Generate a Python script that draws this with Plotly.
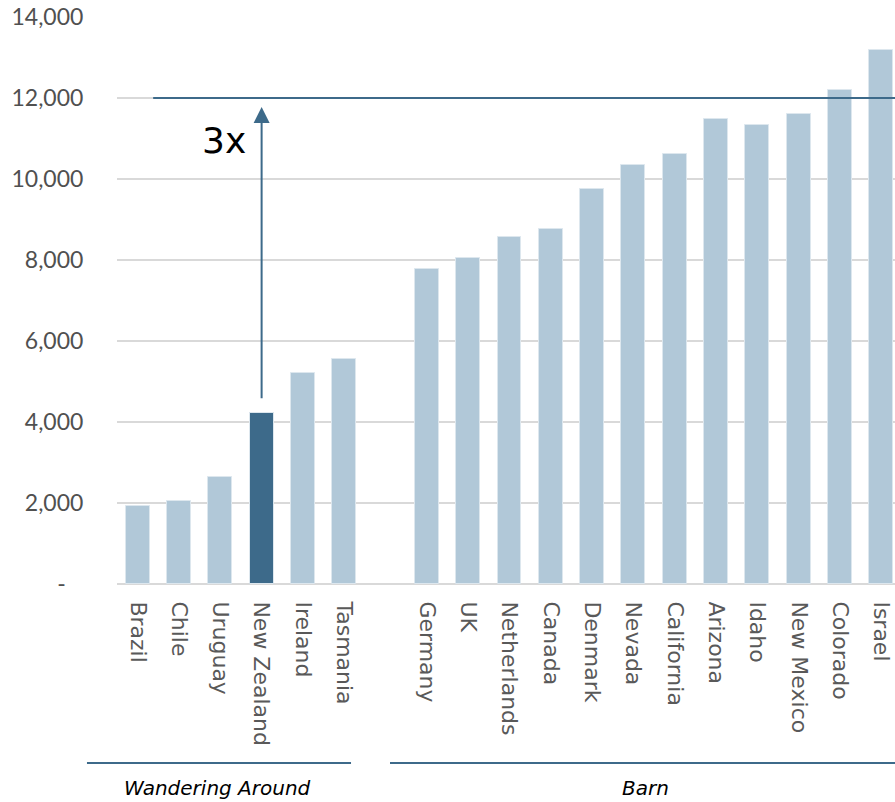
import plotly.graph_objects as go

group1 = ["Brazil", "Chile", "Uruguay", "New Zealand", "Ireland", "Tasmania"]
values1 = [1930, 2060, 2650, 4220, 5210, 5550]
group2 = ["Germany", "UK", "Netherlands", "Canada", "Denmark", "Nevada", "California",
          "Arizona", "Idaho", "New Mexico", "Colorado", "Israel"]
values2 = [7780, 8050, 8570, 8770, 9750, 10340, 10610, 11470, 11330, 11600, 12190, 13180]
group_names = ["Wandering Around", "Barn"]
highlight = "New Zealand"
ref_level = 12000
arrow_from = 4550
arrow_to = 11780
ytick_vals = [0, 2000, 4000, 6000, 8000, 10000, 12000, 14000]
ytick_text = ["-\u00a0\u00a0\u00a0", "2,000", "4,000", "6,000", "8,000", "10,000", "12,000", "14,000"]

cats = group1 + group2
vals = values1 + values2
xpos = list(range(len(group1))) + [len(group1) + 1 + i for i in range(len(group2))]

light = "#b1c8d8"
dark = "#3d6a8a"
colors = [dark if c == highlight else light for c in cats]

fig = go.Figure()
fig.add_trace(go.Bar(
    x=xpos, y=vals, width=0.58,
    marker=dict(color=colors, line=dict(color="#dde7ee", width=1)),
    hoverinfo="skip",
))

font = "Lato, 'Noto Sans', sans-serif"
font2 = "'DejaVu Sans', sans-serif"
hl_x = xpos[cats.index(highlight)]

fig.add_shape(type="line", xref="x", yref="y", x0=0.375, x1=xpos[-1] + 1,
              y0=ref_level, y1=ref_level, line=dict(color=dark, width=2))

fig.add_annotation(x=hl_x, y=arrow_to, ax=hl_x, ay=arrow_from, axref="x", ayref="y",
                   xref="x", yref="y", text="", showarrow=True, arrowhead=2,
                   arrowsize=1.6, arrowwidth=2, arrowcolor=dark)
fig.add_annotation(x=hl_x - 0.9, y=10950, xref="x", yref="y", text="3x", showarrow=False,
                   xanchor="center", font=dict(family=font2, size=36, color="#000000"))

# group labels and lines
fig.add_shape(type="line", xref="paper", yref="paper", x0=-0.0386, x1=0.3008,
              y0=-0.3157, y1=-0.3157, line=dict(color=dark, width=2))
fig.add_shape(type="line", xref="paper", yref="paper", x0=0.3509, x1=1.02,
              y0=-0.3157, y1=-0.3157, line=dict(color=dark, width=2))
fig.add_annotation(x=0.1298, y=-0.36, xref="paper", yref="paper", text="<i>" + group_names[0] + "</i>",
                   showarrow=False, xanchor="center", yanchor="middle",
                   font=dict(family=font2, size=20, color="#000000"))
fig.add_annotation(x=0.6787, y=-0.36, xref="paper", yref="paper", text="<i>" + group_names[1] + "</i>",
                   showarrow=False, xanchor="center", yanchor="middle",
                   font=dict(family=font2, size=20, color="#000000"))

fig.update_layout(
    width=895, height=802,
    margin=dict(l=117, r=0, t=17, b=218),
    plot_bgcolor="white", paper_bgcolor="white",
    showlegend=False,
    bargap=0,
    xaxis=dict(range=[-0.5, xpos[-1] + 0.33], tickvals=xpos, ticktext=cats, tickangle=90,
               showgrid=False, zeroline=False, showline=False,
               ticks="outside", ticklen=12, tickcolor="rgba(0,0,0,0)",
               tickfont=dict(family=font2, size=22, color="#595959")),
    yaxis=dict(range=[0, 14000], tickvals=ytick_vals, ticktext=ytick_text,
               showgrid=True, gridcolor="#d9d9d9", gridwidth=1.5,
               zeroline=True, zerolinecolor="#d9d9d9", zerolinewidth=1.5, showline=False,
               ticks="outside", ticklen=28, tickcolor="rgba(0,0,0,0)",
               tickfont=dict(family=font, size=23, color="#505050")),
)

fig.write_html("out.html")
